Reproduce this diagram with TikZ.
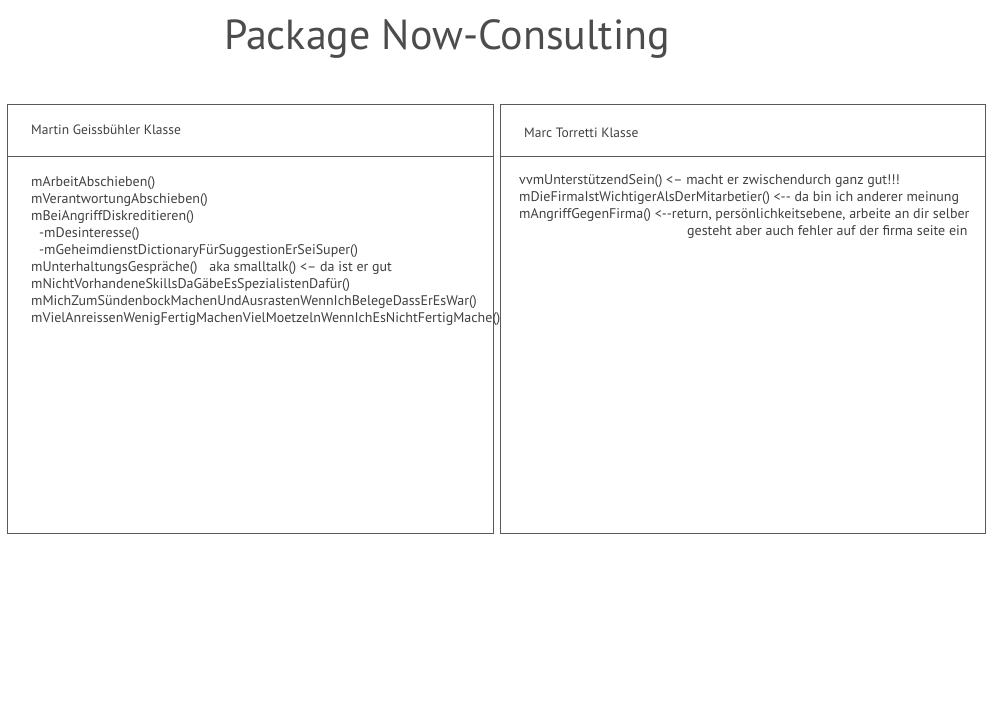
\documentclass[tikz,border=0pt]{standalone}
\usepackage{fontspec}
\setmainfont{PT Sans}
\begin{document}
\begin{tikzpicture}[x=1pt,y=-1pt,
  box/.style={draw=black!65,line width=0.8pt},
  title/.style={text=black!70,font=\fontsize{42}{42}\selectfont,inner sep=0pt,anchor=base},
  head/.style={text=black!75,font=\fontsize{13.5}{13.5}\selectfont,inner sep=0pt,anchor=base west},
  body/.style={text=black!75,font=\fontsize{14}{17}\selectfont,inner sep=0pt,anchor=north west,align=left}]
\useasboundingbox (0,0) rectangle (1000,707);
\node[title] (t) at (447,49) {Package Now-Consulting};
% left class
\draw[box] (7,104) rectangle (493,533);
\draw[box] (7,156) -- (493,156);
\node[head] (lh) at (31,134) {Martin Geissbühler Klasse};
\node[body] (lb) at (31,176) {mArbeitAbschieben()\\
mVerantwortungAbschieben()\\
mBeiAngriffDiskreditieren()\\
\hspace{8pt}-mDesinteresse()\\
\hspace{8pt}-mGeheimdienstDictionaryFürSuggestionErSeiSuper()\\
mUnterhaltungsGespräche()\hspace{8pt} aka smalltalk() <-- da ist er gut\\
mNichtVorhandeneSkillsDaGäbeEsSpezialistenDafür()\\
mMichZumSündenbockMachenUndAusrastenWennIchBelegeDassErEsWar()\\
mVielAnreissenWenigFertigMachenVielMoetzelnWennIchEsNichtFertigMache()};
% right class
\draw[box] (500,104) rectangle (985,533);
\draw[box] (500,156) -- (985,156);
\node[head] (rh) at (524,137) {Marc Torretti Klasse};
\node[body] (rb) at (519,174) {vvmUnterstützendSein() <-- macht er zwischendurch ganz gut!!!\\
mDieFirmaIstWichtigerAlsDerMitarbetier() <-{}- da bin ich anderer meinung\\
mAngriffGegenFirma() <-{}-return, persönlichkeitsebene, arbeite an dir selber\\
\hspace{168pt}gesteht aber auch fehler auf der firma seite ein};
\end{tikzpicture}
\end{document}
